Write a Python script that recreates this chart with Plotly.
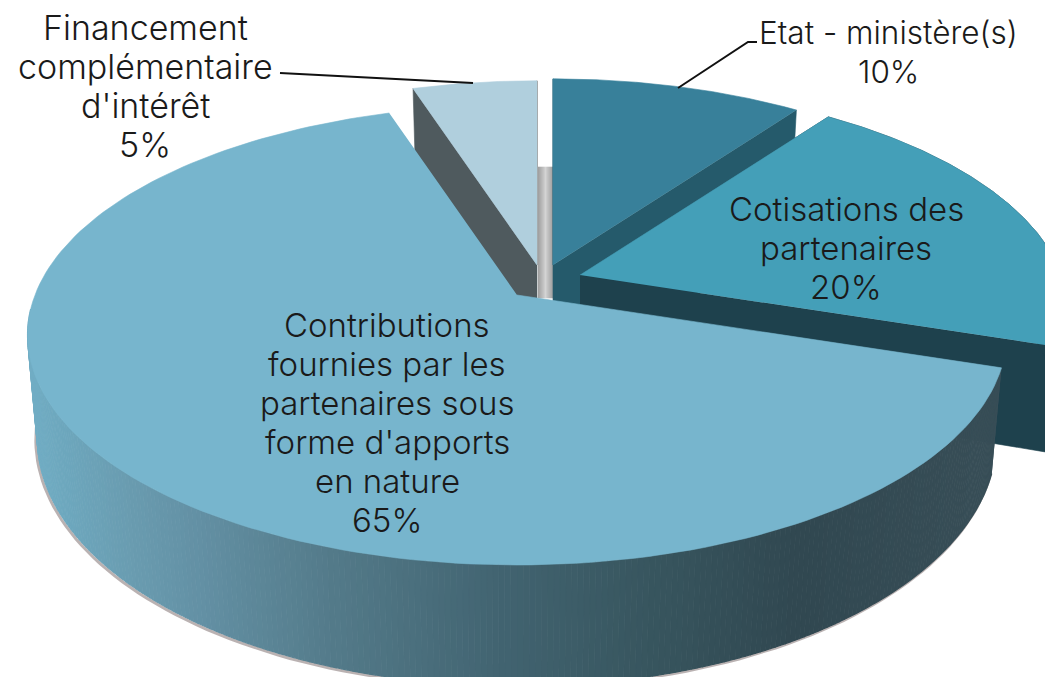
import numpy as np
import plotly.graph_objects as go

# ---- data ----
label_lines = [["Etat - ministère(s)"],
               ["Cotisations des", "partenaires"],
               ["Contributions", "fournies par les", "partenaires sous", "forme d'apports", "en nature"],
               ["Financement", "complémentaire", "d'intérêt"]]
values = [10, 20, 65, 5]
top_colors = ["#38809a", "#449fb8", "#77b5cd", "#b0cfdd"]
side_colors = ["#255a6b", "#1e414d", "#33484f", "#4f5a5e"]
apex_x = [553, 580, 517, 537]
apex_y = [265, 275, 295, 265]
radius_scale = [0.98, 1.0, 1.0, 0.97]
label_x = [888, 846, 387, 145]
label_top = [32, 209, 325, 27]
label_size = [31.5, 33, 33, 34]
line_step = 39

# ---- projection of the tilted pie ----
A, B, P, H, SHRINK = 482, 223, 0.174, 100, 0.98
W, HT = 1045, 677


def project(ax, ay, deg, r=1.0):
    t = np.radians(deg)
    u, v = np.sin(t), np.cos(t)
    s = 1 / (1 + P * v)
    return ax + r * A * u * s, ay - r * B * v * s, s


def lower(ax, x, y, s):
    return ax + (x - ax) * SHRINK, y + H * s


def poly(fig, xs, ys, color, lw=0.6):
    fig.add_trace(go.Scatter(x=list(xs), y=list(ys), mode="lines", fill="toself", fillcolor=color,
                             line=dict(color=color, width=lw), hoverinfo="skip", showlegend=False))


grad_x = [20, 60, 130, 200, 330, 500, 650, 800, 1000]
grad_c = [(115, 175, 198), (110, 168, 190), (106, 156, 176), (99, 144, 164), (84, 123, 138),
          (66, 100, 113), (56, 86, 95), (49, 72, 81), (57, 79, 88)]


def grad(x):
    return "rgb(%d,%d,%d)" % tuple(np.interp(x, grad_x, [c[i] for c in grad_c]) for i in range(3))


def shadow(xs, ys):
    fig.add_trace(go.Scatter(x=xs - 1.5, y=ys + 1.5, mode="lines",
                             line=dict(color="rgba(130,115,115,0.55)", width=3),
                             hoverinfo="skip", showlegend=False))


fig = go.Figure()

# angles of each slice from the values
edges = np.concatenate([[0], np.cumsum(values)]) * 3.6

# grey inner band behind the gap
band_l, band_r, band_t, band_b = 538, 553, 167, 298
for i in range(15):
    f = abs(i - 7) / 7
    g = int(212 - 50 * f)
    poly(fig, [band_l + i, band_l + i + 1, band_l + i + 1, band_l + i], [band_t, band_t, band_b, band_b],
         "rgb(%d,%d,%d)" % (g, g, g))

RIM_END = 266
RIM_STEP = 0.6


def draw_slice(k):
    a0, a1 = edges[k], edges[k + 1]
    ax, ay, r = apex_x[k], apex_y[k], radius_scale[k]
    th = np.linspace(a0, a1, 160)
    x, y, s = project(ax, ay, th, r)
    xb, yb = lower(ax, x, y, s)
    abx, aby = ax, ay + H
    if k == 2:
        mask = th < RIM_END
        shadow(xb[mask], yb[mask])
        for t0 in np.arange(a0, RIM_END, RIM_STEP):
            t_ = np.array([t0, t0 + RIM_STEP])
            x_, y_, s_ = project(ax, ay, t_, r)
            xb_, yb_ = lower(ax, x_, y_, s_)
            poly(fig, [x_[0], x_[1], xb_[1], xb_[0]], [y_[0], y_[1], yb_[1], yb_[0]], grad(x_.mean()), lw=1.2)
    else:
        if k == 1:
            shadow(xb, yb)
        # cut faces
        for j in (0, -1):
            poly(fig, [ax, x[j], xb[j], abx], [ay, y[j], yb[j], aby], side_colors[k])
        if k == 1:
            poly(fig, np.r_[x, xb[::-1]], np.r_[y, yb[::-1]], side_colors[k])
    poly(fig, np.r_[ax, x], np.r_[ay, y], top_colors[k])


for k in (0, 1, 3, 2):
    draw_slice(k)

# leader lines
lead = [([280, 473], [73, 83]), ([678, 748, 757], [88, 42, 42])]
for lx, ly in lead:
    fig.add_trace(go.Scatter(x=lx, y=ly, mode="lines", line=dict(color="#111111", width=2),
                             hoverinfo="skip", showlegend=False))

for k in range(4):
    rows = label_lines[k] + [f"{values[k]}%"]
    for j, row in enumerate(rows):
        fig.add_annotation(x=label_x[k], y=label_top[k] + j * line_step, xref="x", yref="y", showarrow=False,
                           text=row, align="center",
                           font=dict(family="Inter, Lato, sans-serif", size=label_size[k], color="#1a1a1a", weight=300))

fig.update_layout(width=W, height=HT, margin=dict(l=0, r=0, t=0, b=0), autosize=False,
                  paper_bgcolor="white", plot_bgcolor="white", showlegend=False,
                  xaxis=dict(range=[0, W], visible=False, fixedrange=True),
                  yaxis=dict(range=[HT, 0], visible=False, fixedrange=True))
fig.write_html("out.html", config={"displayModeBar": False},
               post_script="document.documentElement.style.margin='0';document.body.style.margin='0';"
                           "document.body.style.overflow='hidden';")
